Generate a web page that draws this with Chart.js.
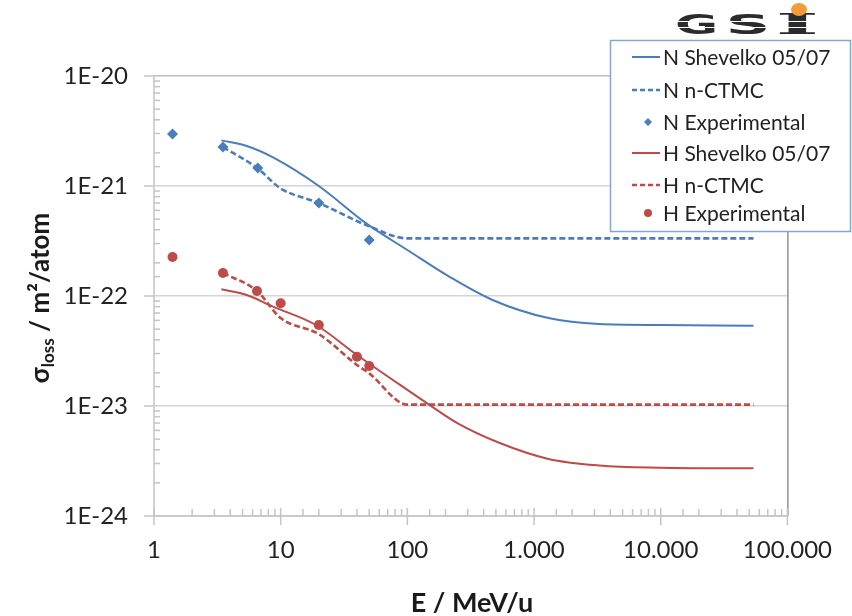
<!DOCTYPE html>
<html><head><meta charset="utf-8">
<script src="https://cdn.jsdelivr.net/npm/chart.js@4"></script>
<style>html,body{margin:0;padding:0;background:#fff}#wrap{width:852px;height:616px}</style>
</head><body><div id="wrap"><canvas id="c" width="852" height="616"></canvas></div>
<script>
// ---- data ----
const seriesLabels = ['N Shevelko 05/07','N n-CTMC','N Experimental','H Shevelko 05/07','H n-CTMC','H Experimental'];

const nShevelkoE = [3.4, 5.4, 8.7, 20, 47, 100, 214, 470, 1300, 3250, 10000, 54000];
const nShevelkoS = [2.6e-21, 2.31e-21, 1.82e-21, 1.0e-21, 4.6e-22, 2.62e-22, 1.5e-22, 9.2e-23, 6.3e-23, 5.56e-23, 5.45e-23, 5.37e-23];

const nCtmcE = [3.5, 6.5, 10, 20, 50, 100, 1000, 10000, 54000];
const nCtmcS = [2.26e-21, 1.46e-21, 9.5e-22, 7.0e-22, 4.3e-22, 3.34e-22, 3.34e-22, 3.34e-22, 3.34e-22];

const nExpE = [1.4, 3.5, 6.6, 20, 50];
const nExpS = [2.97e-21, 2.26e-21, 1.46e-21, 7.0e-22, 3.23e-22];

const hShevelkoE = [3.4, 5.4, 8.7, 19, 40, 100, 150, 250, 530, 1300, 3250, 10000, 54000];
const hShevelkoS = [1.15e-22, 1.02e-22, 8.0e-23, 5.45e-23, 2.91e-23, 1.4e-23, 1.02e-23, 6.95e-24, 4.63e-24, 3.3e-24, 2.88e-24, 2.75e-24, 2.71e-24];

const hCtmcE = [3.5, 6.5, 10, 20, 40, 50, 100, 1000, 10000, 54000];
const hCtmcS = [1.62e-22, 1.11e-22, 6.3e-23, 4.5e-23, 2.36e-23, 1.98e-23, 1.03e-23, 1.03e-23, 1.03e-23, 1.03e-23];

const hExpE = [1.4, 3.5, 6.5, 10, 20, 40, 50];
const hExpS = [2.26e-22, 1.62e-22, 1.11e-22, 8.6e-23, 5.45e-23, 2.8e-23, 2.31e-23];

const xTickValues = [1, 10, 100, 1000, 10000, 100000];
const yTickValues = [1e-24, 1e-23, 1e-22, 1e-21, 1e-20];

// ---- helpers ----
const pts = (xs, ys) => xs.map((v, i) => ({x: v, y: ys[i]}));
const isDecade = v => { const l = Math.log10(v); return Math.abs(l - Math.round(l)) < 1e-6; };
const fmtX = v => String(Math.round(v)).replace(/\B(?=(\d{3})+(?!\d))/g, '.');
const fmtY = v => '1E' + Math.round(Math.log10(v));

const BLUE = '#4a7ebb', RED = '#be4b48';
const FONT = 'Lato, "Open Sans", sans-serif';

function lineDs(label, xs, ys, color, dash) {
  return {label, data: pts(xs, ys), showLine: true, borderColor: color, backgroundColor: color,
    borderWidth: dash ? 2.6 : 2, borderDash: dash ? [6, 3] : [], pointRadius: 0, pointHoverRadius: 0,
    cubicInterpolationMode: 'monotone', _kind: 'line'};
}
function ptDs(label, xs, ys, color, style, r) {
  return {label, data: pts(xs, ys), showLine: false, borderColor: color, backgroundColor: color,
    pointStyle: style, pointRadius: r, borderWidth: 0, _kind: 'point'};
}

const datasets = [
  lineDs(seriesLabels[0], nShevelkoE, nShevelkoS, BLUE, false),
  lineDs(seriesLabels[1], nCtmcE, nCtmcS, BLUE, true),
  ptDs(seriesLabels[2], nExpE, nExpS, BLUE, 'rectRot', 5.5),
  lineDs(seriesLabels[3], hShevelkoE, hShevelkoS, RED, false),
  lineDs(seriesLabels[4], hCtmcE, hCtmcS, RED, true),
  ptDs(seriesLabels[5], hExpE, hExpS, RED, 'circle', 5),
];

function seg(ctx, x1, y1, x2, y2) { ctx.beginPath(); ctx.moveTo(x1, y1); ctx.lineTo(x2, y2); ctx.stroke(); }

const decor = {
  id: 'decor',
  beforeDatasetsDraw(chart) {
    const {ctx, chartArea: a, scales: {x, y}} = chart;
    ctx.save();
    ctx.strokeStyle = '#5a5a5a'; ctx.lineWidth = 1;
    seg(ctx, a.right + 0.5, a.top, a.right + 0.5, a.bottom);
    ctx.strokeStyle = '#c4c4c4'; ctx.lineWidth = 1.5;
    seg(ctx, a.left, a.top, a.left, a.bottom + 1);
    y.ticks.forEach(t => {
      const py = y.getPixelForValue(t.value);
      if (isDecade(t.value)) seg(ctx, a.left - 10, py, a.left, py);
      else seg(ctx, a.left, py, a.left + 6, py);
    });
    seg(ctx, a.left, a.bottom, a.right, a.bottom);
    x.ticks.forEach(t => {
      const px = x.getPixelForValue(t.value);
      if (isDecade(t.value)) seg(ctx, px, a.bottom - 8, px, a.bottom + 9);
      else seg(ctx, px, a.bottom - 7, px, a.bottom);
    });
    ctx.restore();
  },
  afterDraw(chart) {
    const {ctx} = chart;
    ctx.save();
    // axis titles
    ctx.fillStyle = '#1a1a1a';
    ctx.textBaseline = 'alphabetic';
    ctx.font = 'bold 27px ' + FONT;
    ctx.textAlign = 'center';
    ctx.fillText('E / MeV/u', 472, 612);
    // y title rotated with subscript
    const big = 'bold 26px ' + FONT, small = 'bold 17px ' + FONT;
    const parts = [['σ', big, 0], ['loss', small, 5], [' / m²/atom', big, 0]];
    let total = 0;
    parts.forEach(p => { ctx.font = p[1]; total += ctx.measureText(p[0]).width; });
    ctx.translate(49, 298);
    ctx.rotate(-Math.PI / 2);
    ctx.textAlign = 'left';
    let u = -total / 2;
    parts.forEach(p => { ctx.font = p[1]; ctx.fillText(p[0], u, p[2]); u += ctx.measureText(p[0]).width; });
    ctx.setTransform(1, 0, 0, 1, 0, 0);

    // legend
    const L = 610, T = 40, R = 851, B = 232;
    ctx.fillStyle = '#fff';
    ctx.fillRect(L, T, R - L, B - T);
    ctx.strokeStyle = '#86a6d2'; ctx.lineWidth = 1.5;
    ctx.strokeRect(L + 0.5, T + 0.5, R - L - 1, B - T - 1);
    const rows = [57, 90, 122, 153, 185, 213];
    ctx.font = '21px ' + FONT;
    ctx.textBaseline = 'middle';
    ctx.textAlign = 'left';
    chart.data.datasets.forEach((ds, i) => {
      const yy = rows[i];
      if (ds._kind === 'line') {
        ctx.strokeStyle = ds.borderColor; ctx.lineWidth = ds.borderWidth;
        ctx.setLineDash(ds.borderDash.length ? [5, 3] : []);
        seg(ctx, 632, yy, 660, yy);
        ctx.setLineDash([]);
      } else {
        ctx.fillStyle = ds.backgroundColor;
        ctx.beginPath();
        if (ds.pointStyle === 'circle') ctx.arc(648, yy, 4, 0, Math.PI * 2);
        else { ctx.moveTo(648, yy - 4); ctx.lineTo(652, yy); ctx.lineTo(648, yy + 4); ctx.lineTo(644, yy); ctx.closePath(); }
        ctx.fill();
      }
      ctx.fillStyle = '#222';
      ctx.fillText(ds.label, 663, yy + 1);
    });

    // GSI logo (as text)
    ctx.fillStyle = '#2b2b2b';
    ctx.textBaseline = 'alphabetic';
    const letters = [['G', 677, 39, 'bold 27px "DejaVu Sans", sans-serif'], ['S', 728, 39, 'bold 27px "DejaVu Sans", sans-serif'], ['I', 779, 38, 'bold 27px "DejaVu Serif", serif']];
    letters.forEach(([ch, lx, w, f]) => {
      ctx.font = f;
      const m = ctx.measureText(ch);
      const inkW = m.actualBoundingBoxRight + m.actualBoundingBoxLeft;
      ctx.save();
      ctx.translate(lx, 34);
      ctx.scale(w / inkW, 1.0);
      ctx.fillText(ch, m.actualBoundingBoxLeft, 0);
      ctx.restore();
    });
    ctx.strokeStyle = '#fff'; ctx.lineWidth = 1.2;
    seg(ctx, 675, 21.5, 820, 21.5);
    seg(ctx, 675, 27.5, 820, 27.5);
    ctx.fillStyle = '#f29b38';
    ctx.beginPath(); ctx.ellipse(799, 9.5, 8, 6.5, 0, 0, Math.PI * 2); ctx.fill();
    ctx.restore();
  }
};

new Chart(document.getElementById('c'), {
  type: 'scatter',
  data: {datasets},
  options: {
    responsive: false, animation: false, devicePixelRatio: 1,
    layout: {padding: {left: 0, top: 76, right: 63, bottom: 0}},
    plugins: {legend: {display: false}, tooltip: {enabled: false}},
    scales: {
      x: {
        type: 'logarithmic', min: 1, max: 100000, position: 'bottom',
        afterFit: s => { s.height = 100; },
        grid: {display: false, drawTicks: false},
        border: {display: false},
        ticks: {autoSkip: false, maxRotation: 0, padding: 20, color: '#222',
          font: {family: FONT, size: 24},
          callback: v => (isDecade(v) && xTickValues.includes(Math.round(v)) ? fmtX(v) : '')}
      },
      y: {
        type: 'logarithmic', min: 1e-24, max: 1e-20, position: 'left',
        afterFit: s => { s.width = 154; },
        grid: {drawTicks: false, lineWidth: 1.5,
          color: c => (c.tick && isDecade(c.tick.value) && c.tick.value < 9e-21 ? '#d4d4d4' : (c.tick && isDecade(c.tick.value) ? '#bdbdbd' : 'rgba(0,0,0,0)'))},
        border: {display: false},
        ticks: {autoSkip: false, padding: 26, color: '#222',
          font: {family: FONT, size: 24},
          callback: v => (isDecade(v) ? fmtY(v) : '')}
      }
    }
  },
  plugins: [decor]
});
</script>
</body></html>
